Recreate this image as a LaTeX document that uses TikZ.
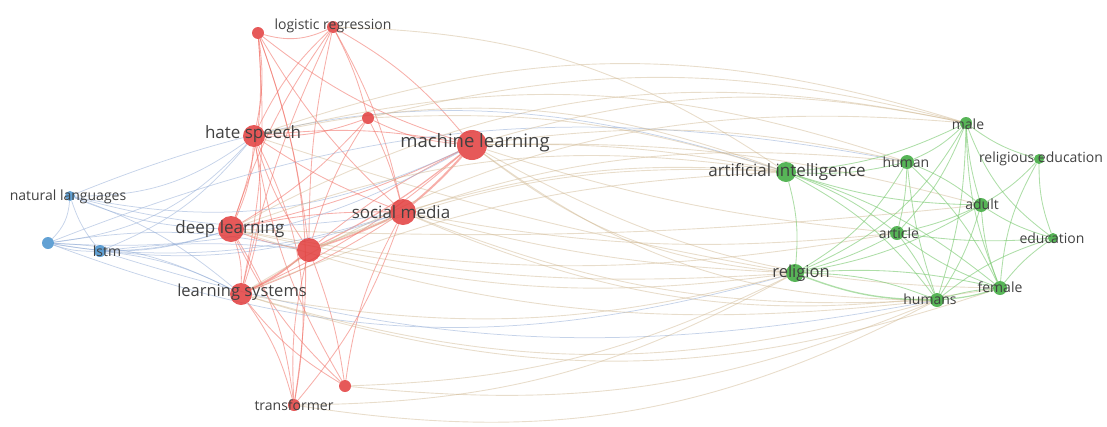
\documentclass[tikz,border=0pt]{standalone}
\usepackage{fontspec}
\setmainfont{Open Sans}
\usetikzlibrary{arrows}
\pgfdeclarelayer{bg}
\pgfsetlayers{bg,main}
\definecolor{rednode}{RGB}{226,60,60}
\definecolor{greennode}{RGB}{58,168,58}
\definecolor{bluenode}{RGB}{70,145,205}
\definecolor{redline}{RGB}{240,110,100}
\definecolor{greenline}{RGB}{120,200,110}
\definecolor{blueline}{RGB}{150,175,215}
\definecolor{mixline}{RGB}{205,180,140}
\definecolor{labeltext}{RGB}{65,65,65}

\begin{document}
\begin{tikzpicture}[x=1pt,y=-1pt]
\tikzset{vertex/.style = {shape=circle,fill=rednode,opacity=.85,inner sep=0pt}}
\tikzset{gvertex/.style = {vertex,fill=greennode}}
\tikzset{bvertex/.style = {vertex,fill=bluenode}}
\tikzset{lbl/.style = {text=labeltext,inner sep=0pt,font=\fontsize{14}{14}\selectfont}}
\tikzset{lblbig/.style = {lbl,font=\fontsize{17}{17}\selectfont}}
\tikzset{redge/.style = {draw=redline,opacity=.55,line width=.85pt}}
\tikzset{gedge/.style = {draw=greenline,opacity=.6,line width=.85pt}}
\tikzset{bedge/.style = {draw=blueline,opacity=.55,line width=.75pt}}
\tikzset{xedge/.style = {draw=mixline,opacity=.45,line width=.9pt}}
\useasboundingbox (0,0) rectangle (1107,426);
% vertices
\node[vertex,minimum size=12pt] (r1) at (258,33) {};
\node[vertex,minimum size=12pt] (lr) at (333,27) {};
\node[vertex,minimum size=12pt] (r3) at (368,118) {};
\node[vertex,minimum size=22pt] (hs) at (254,136) {};
\node[vertex,minimum size=30pt] (ml) at (472,145) {};
\node[vertex,minimum size=26pt] (sm) at (403,212) {};
\node[vertex,minimum size=26pt] (dl) at (231,229) {};
\node[vertex,minimum size=24pt] (r8) at (309,250) {};
\node[vertex,minimum size=22pt] (ls) at (241,294) {};
\node[vertex,minimum size=12pt] (r10) at (345,386) {};
\node[vertex,minimum size=12pt] (tr) at (294,405) {};
\node[bvertex,minimum size=10pt] (nl) at (70,196) {};
\node[bvertex,minimum size=12pt] (b2) at (48,243) {};
\node[bvertex,minimum size=12pt] (lstm) at (100,251) {};
\node[gvertex,minimum size=12pt] (male) at (966,123) {};
\node[gvertex,minimum size=14pt] (hum) at (907,162) {};
\node[gvertex,minimum size=10pt] (re) at (1039,159) {};
\node[gvertex,minimum size=20pt] (ai) at (786,172) {};
\node[gvertex,minimum size=14pt] (adult) at (981,205) {};
\node[gvertex,minimum size=14pt] (art) at (897,233) {};
\node[gvertex,minimum size=10pt] (edu) at (1053,238) {};
\node[gvertex,minimum size=18pt] (rel) at (795,273) {};
\node[gvertex,minimum size=14pt] (fem) at (1000,288) {};
\node[gvertex,minimum size=14pt] (hums) at (937,300) {};
% labels
\node[lbl] (lrl) at (333,26) {logistic regression};
\node[lblbig] (hsl) at (253,134) {hate speech};
\node[lblbig,font=\fontsize{18.5}{18.5}\selectfont] (mll) at (475,143) {machine learning};
\node[lblbig] (sml) at (401,212) {social media};
\node[lblbig] (dll) at (230,229) {deep learning};
\node[lblbig,font=\fontsize{16.5}{16.5}\selectfont] (lsl) at (242,292) {learning systems};
\node[lbl] (trl) at (294,405) {transformer};
\node[lbl] (nll) at (68,197) {natural languages};
\node[lbl] (lstml) at (107,251) {lstm};
\node[lbl] (malel) at (968,124) {male};
\node[lbl] (huml) at (906,162) {human};
\node[lbl] (rel1) at (1041,159) {religious education};
\node[lblbig] (ail) at (787,172) {artificial intelligence};
\node[lbl] (adultl) at (982,204) {adult};
\node[lbl] (artl) at (899,233) {article};
\node[lbl] (edul) at (1052,238) {education};
\node[lblbig,font=\fontsize{16.5}{16.5}\selectfont] (rell) at (801,273) {religion};
\node[lbl] (feml) at (1000,287) {female};
\node[lbl] (humsl) at (930,299) {humans};

%edges
\begin{pgfonlayer}{bg}
\foreach \a/\b/\t in {r1/hs/10,r1/dl/12,r1/ls/8,r1/sm/-8,r1/ml/-10,r1/r8/6,r1/tr/14,
  lr/hs/-10,lr/dl/-8,lr/ls/-6,lr/sm/8,lr/ml/10,lr/r8/-6,lr/r1/20,lr/r3/6,
  r3/hs/10,r3/ml/-10,r3/sm/6,r3/r8/-8,r3/dl/8,
  hs/ml/8,hs/sm/-6,hs/dl/10,hs/r8/-8,hs/ls/14,hs/tr/18,hs/r10/-10,
  ml/dl/6,ml/r8/-6,ml/ls/8,
  sm/dl/-6,sm/ls/6,sm/r10/-10,sm/tr/10,
  dl/r8/-6,dl/ls/10,dl/tr/12,dl/r10/-10,
  r8/ls/8,r8/tr/-8,r8/r10/6,
  ls/tr/10,ls/r10/-10}
  \draw[redge] (\a) to[bend left=\t] (\b);
\draw[redge,line width=2pt] (ml) to[bend left=4] (sm);
\draw[redge,line width=1.6pt] (sm) to[bend left=4] (r8);
\draw[redge,line width=1.4pt] (r8) to[bend left=6] (ls);
\draw[redge,line width=1.2pt] (ml) to[bend left=6] (r8);
% blue
\foreach \a/\b/\t in {nl/b2/20,nl/lstm/-10,b2/lstm/-10,nl/dl/-10,nl/hs/-18,nl/ls/10,
  b2/dl/-14,b2/ls/12,b2/hs/-20,lstm/dl/-8,lstm/ls/10,lstm/hs/-14,
  b2/sm/-14,lstm/sm/-10,nl/ml/-18,b2/r8/10,lstm/r8/6,b2/ml/-16,nl/sm/-12}
  \draw[bedge] (\a) to[bend left=\t] (\b);
\draw[bedge] (nl) to[bend left=20] (ai);
\draw[bedge] (b2) to[bend right=18] (rel);
\draw[bedge] (lstm) to[bend right=14] (hums);
\draw[bedge] (b2) to[bend left=16] (hum);
% red to green
\foreach \a/\b/\t in {ml/ai/6,ml/rel/-16,ml/hum/10,ml/male/14,ml/adult/8,ml/art/-6,
  ml/hums/-18,ml/fem/-14,sm/ai/10,sm/rel/-6,sm/hums/-12,hs/ai/16,hs/male/18,
  hs/rel/-4,dl/ai/14,dl/rel/-8,dl/hums/-12,ls/ai/10,ls/rel/-12,ls/hums/-16,
  r8/rel/-10,r8/ai/12,tr/hums/-18,tr/rel/-14,r10/rel/-12,lr/ai/16,r3/ai/10,
  r3/male/14,sm/art/-8,hs/hum/16,dl/art/-10,ls/fem/-18,dl/male/20,ls/male/18,
  r8/hum/14,dl/adult/-4,r10/hums/-14,sm/fem/-16}
  \draw[xedge] (\a) to[bend left=\t] (\b);
% green
\foreach \a/\b/\t in {ai/rel/10,ai/hum/-8,ai/male/-10,ai/adult/-8,ai/art/8,ai/hums/12,
  ai/fem/10,rel/hum/-14,rel/male/-18,rel/adult/-10,rel/art/-6,rel/hums/10,
  rel/fem/8,hum/male/-10,hum/adult/8,hum/art/6,hum/hums/-6,hum/fem/10,
  male/adult/-6,male/art/10,male/re/-10,male/edu/-16,male/hums/8,male/fem/-10,
  re/adult/8,re/edu/-10,re/fem/-12,adult/art/6,adult/hums/8,adult/fem/-8,
  adult/edu/-8,art/hums/6,art/fem/-8,art/edu/-6,hums/fem/6,edu/fem/-8,edu/hums/-10}
  \draw[gedge] (\a) to[bend left=\t] (\b);
\draw[gedge,line width=1.4pt] (rel) to[bend right=10] (hums);
\draw[gedge,line width=1.2pt] (hums) to[bend right=6] (fem);
\end{pgfonlayer}
\end{tikzpicture}
\end{document}
